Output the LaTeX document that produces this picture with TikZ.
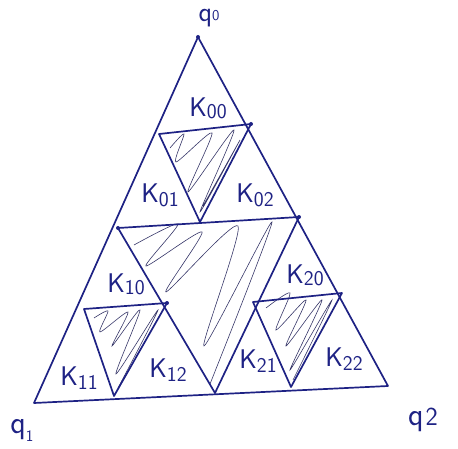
\documentclass[tikz,border=0pt]{standalone}
\usepackage{tikz}
\definecolor{ink}{RGB}{30,34,132}
\definecolor{scrib}{RGB}{55,55,105}
\begin{document}
\begin{tikzpicture}[x=1pt,y=-1pt,
  edge/.style={draw=ink,line width=1.7pt,line join=round,line cap=round},
  scribble/.style={draw=scrib,line width=0.6pt},
  klabel/.style={text=ink,font=\sffamily\fontsize{27}{27}\selectfont,inner sep=0pt},
  qlabel/.style={text=ink,font=\sffamily\fontsize{32}{32}\selectfont,inner sep=0pt},
  vdot/.style={fill=ink,circle,inner sep=0pt,minimum size=4pt}]
\useasboundingbox (0,0) rectangle (458,449);
% main vertices
\coordinate (q0) at (198,37);
\coordinate (q1) at (34,403);
\coordinate (q2) at (388,386);
% level-1 midpoints
\coordinate (ml) at (118,228);
\coordinate (mr) at (299,217);
\coordinate (mb) at (215,393);
% level-2 midpoints, top
\coordinate (t1) at (159,134);
\coordinate (t2) at (251,124);
\coordinate (t3) at (200,222);
% level-2 midpoints, left
\coordinate (l1) at (84,309);
\coordinate (l2) at (167,303);
\coordinate (l3) at (114,396);
% level-2 midpoints, right
\coordinate (r1) at (253,302);
\coordinate (r2) at (342,293);
\coordinate (r3) at (291,387);
% scribbles in removed triangles
\draw[scribble] plot[smooth,tension=0.45] coordinates {(134,245) (178,224) (146,266) (202,232) (166,292) (238,226) (204,346) (272,222) (210,384)};
\draw[scribble] plot[smooth,tension=0.45] coordinates {(170,148) (184,134) (176,162) (212,133) (188,192) (234,130) (200,212) (240,140) (203,206)};
\draw[scribble] plot[smooth,tension=0.45] coordinates {(94,318) (108,311) (100,332) (128,312) (112,346) (140,310) (116,374) (158,310) (118,388)};
\draw[scribble] plot[smooth,tension=0.45] coordinates {(266,308) (290,293) (276,330) (306,300) (286,346) (322,300) (290,370) (332,300) (293,380)};
% edges
\draw[edge] (q0) -- (q1) -- (q2) -- cycle;
\draw[edge] (ml) -- (mr) -- (mb) -- cycle;
\draw[edge] (t1) -- (t2) -- (t3) -- cycle;
\draw[edge] (l1) -- (l2) -- (l3) -- cycle;
\draw[edge] (r1) -- (r2) -- (r3) -- cycle;
% dots
\node[vdot] at (q0) {};
\node[vdot] at (ml) {};
\node[vdot] at (mr) {};
\node[vdot] at (t2) {};
\node[vdot] at (l2) {};
% labels
\node[klabel] (k00) at (208,108) {K\raisebox{-2pt}{\fontsize{21}{21}\selectfont 00}};
\node[klabel] (k01) at (160,195) {K\raisebox{-4pt}{\fontsize{21}{21}\selectfont 01}};
\node[klabel] (k02) at (255,195) {K\raisebox{-4pt}{\fontsize{21}{21}\selectfont 02}};
\node[klabel] (k10) at (126,284) {K\raisebox{-2pt}{\fontsize{21}{21}\selectfont 10}};
\node[klabel] (k11) at (79,378) {K\raisebox{-4pt}{\fontsize{21}{21}\selectfont 11}};
\node[klabel] (k12) at (168,370) {K\raisebox{-4pt}{\fontsize{21}{21}\selectfont 12}};
\node[klabel] (k20) at (305,275) {K\raisebox{-2pt}{\fontsize{21}{21}\selectfont 20}};
\node[klabel] (k21) at (258,361) {K\raisebox{-4pt}{\fontsize{21}{21}\selectfont 21}};
\node[klabel] (k22) at (344,359) {K\raisebox{-4pt}{\fontsize{21}{21}\selectfont 22}};
\node[text=ink,font=\sffamily\fontsize{28}{28}\selectfont,inner sep=0pt] (lq0) at (209,18) {q\raisebox{1pt}{\fontsize{15}{15}\selectfont 0}};
\node[qlabel] (lq1) at (22,430) {q\raisebox{-8pt}{\fontsize{16}{16}\selectfont 1}};
\node[qlabel] (lq2) at (423,420) {q\hspace{2pt}{\fontsize{26}{26}\selectfont 2}};
\end{tikzpicture}
\end{document}
